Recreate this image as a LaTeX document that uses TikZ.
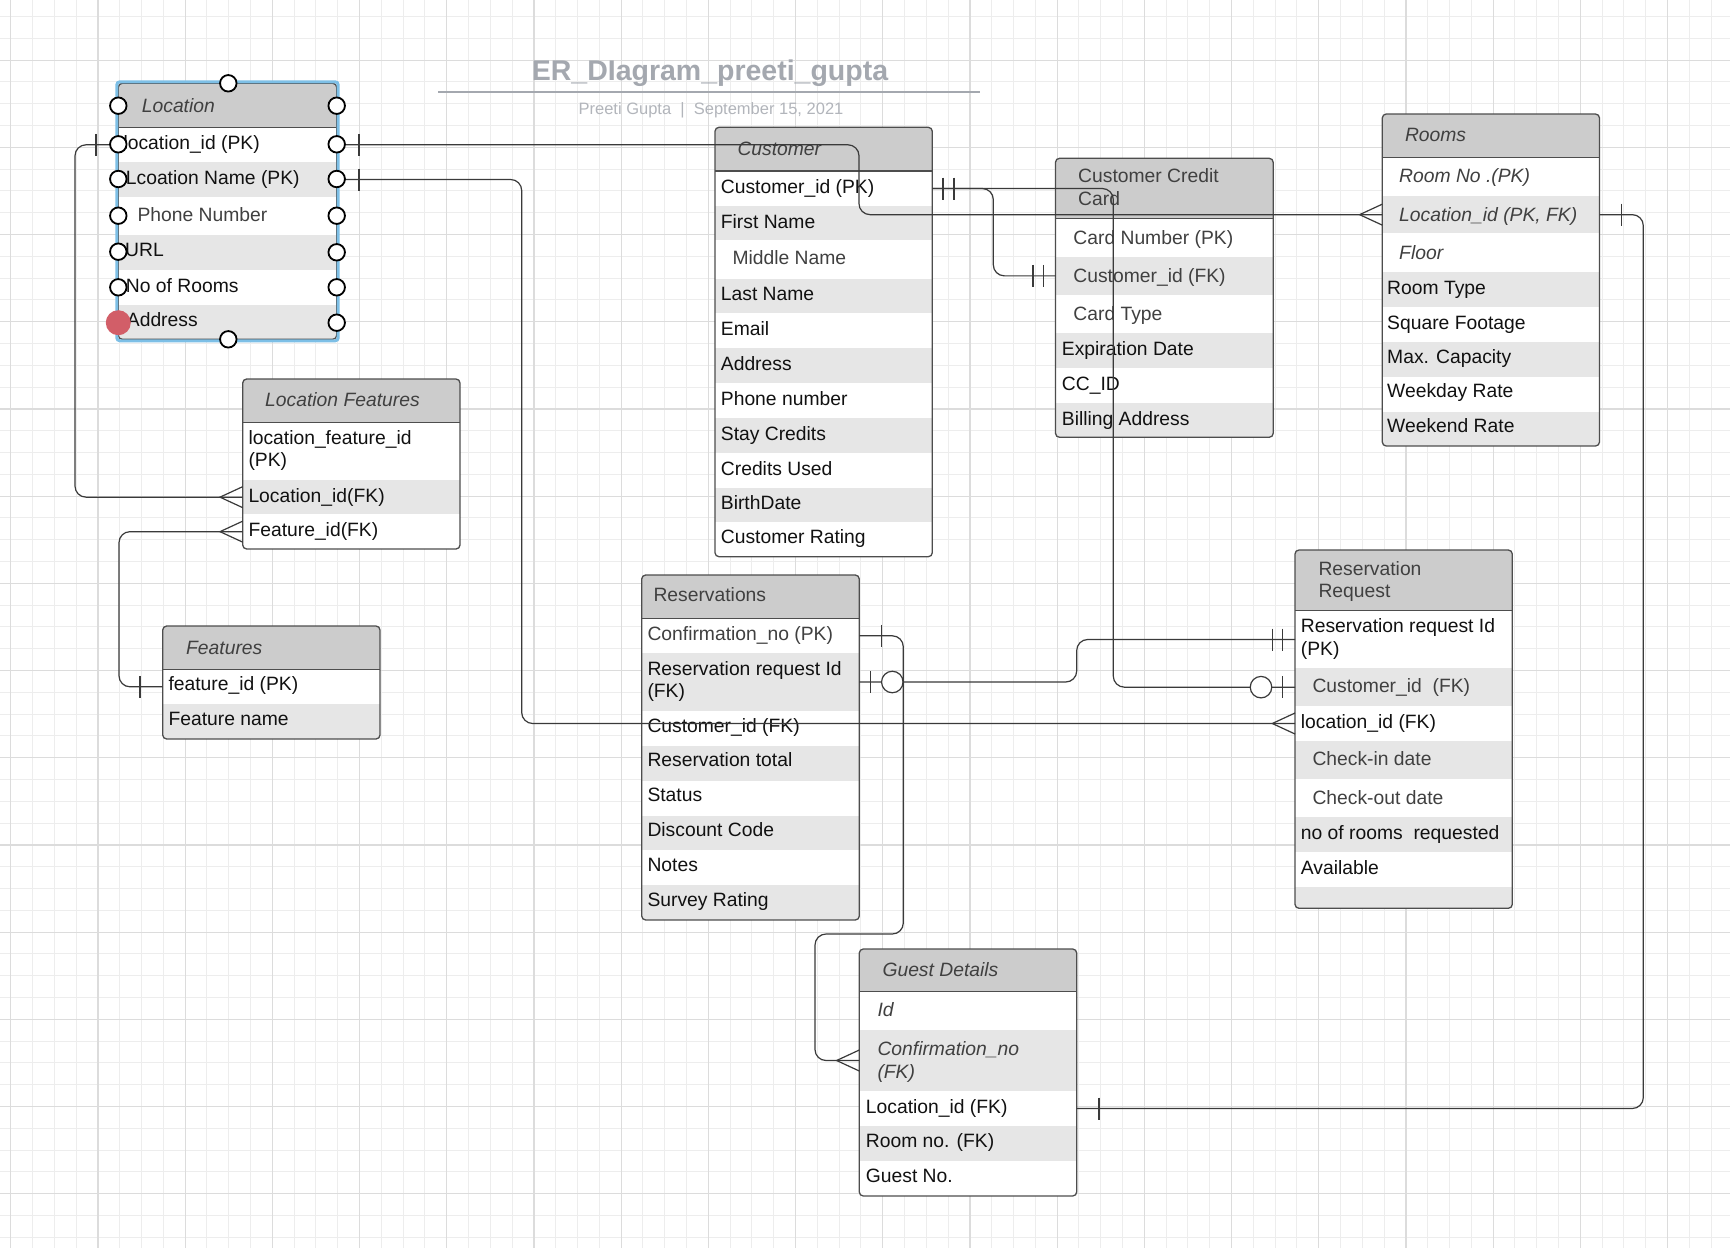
\documentclass[tikz,border=0pt]{standalone}
\usepackage{fontspec}
\setmainfont{Liberation Sans}
\usetikzlibrary{fit}
\definecolor{hdr}{HTML}{CCCCCC}
\definecolor{rowg}{HTML}{E6E6E6}
\definecolor{boxline}{HTML}{4D4D4D}
\definecolor{connline}{HTML}{3A3A3A}
\definecolor{ink}{HTML}{111111}
\definecolor{gink}{HTML}{404040}
\definecolor{gridminor}{HTML}{EDEDED}
\definecolor{gridmajor}{HTML}{DCDCDC}
\definecolor{titlegray}{HTML}{A4A8AF}
\definecolor{subgray}{HTML}{B2B5BB}
\definecolor{selblue}{HTML}{7DBFE6}
\definecolor{reddot}{HTML}{D25E68}
\tikzset{
  rowcell/.style={inner sep=0pt, outer sep=0pt, draw=none},
  boxnode/.style={draw=boxline, line width=1.3pt, rounded corners=4pt, inner sep=0pt, outer sep=0pt},
  sepline/.style={draw=boxline, line width=1.3pt},
  txt/.style={anchor=west, inner sep=0pt, text height=13.8pt, text depth=0pt,
    font=\fontsize{19.3pt}{23pt}\selectfont, text=ink},
  gtxt/.style={txt, text=gink},
  itxt/.style={txt, text=gink, font=\fontsize{19.3pt}{23pt}\selectfont\itshape},
  conn/.style={draw=connline, line width=1.2pt, rounded corners=11pt},
  bar/.style={draw=connline, line width=1.2pt},
  ocirc/.style={circle, draw=connline, fill=white, line width=1.2pt, minimum size=21.5pt, inner sep=0pt},
  handle/.style={circle, draw=black, fill=white, line width=1.8pt, minimum size=16.5pt, inner sep=0pt},
}
\newcommand{\erow}[6]{\node[rowcell, fill=#6, fit={(#2,#3)(#4,#5)}] (#1) {};}
\newcommand{\crowW}[1]{\draw[bar] ([yshift=10.5pt]#1.west) -- ([xshift=-22.7pt]#1.west) -- ([yshift=-10.5pt]#1.west);}
\newcommand{\tick}[2]{\draw[bar] ([xshift=#2,yshift=11pt]#1) -- ([xshift=#2,yshift=-11pt]#1);}
\begin{document}
\begin{tikzpicture}[x=1pt,y=-1pt]
\useasboundingbox (0,0) rectangle (1730,1248);
\fill[white] (0,0) rectangle (1730,1248);
% grid
\foreach \i in {0,...,79} \draw[gridminor, line width=1pt] ({10.7+21.8*\i},0) -- ++(0,1248);
\foreach \j in {0,...,56} \draw[gridminor, line width=1pt] (0,{16.5+21.8*\j}) -- ++(1730,0);
\foreach \i in {0,...,19} \draw[gridmajor, line width=1.2pt] ({10.7+87.2*\i},0) -- ++(0,1248);
\foreach \j in {0,...,13} \draw[gridmajor, line width=1.2pt] (0,{60.1+87.2*\j}) -- ++(1730,0);

% title
\node[anchor=base, inner sep=0pt, font=\fontsize{28.5pt}{34pt}\selectfont\bfseries, text=titlegray] (title) at (710,80.7) {ER\_DIagram\_preeti\_gupta};
\draw[titlegray, line width=1.8pt] (438.3,91.7) -- (979.8,91.7);
\node[anchor=base, inner sep=0pt, font=\fontsize{16.5pt}{20pt}\selectfont, text=subgray] (subtitle) at (711,114) {Preeti Gupta\ \ |\ \ September 15, 2021};

% ---------- Location ----------
\begin{scope}
\clip[rounded corners=4pt] (118.3,83.3) rectangle (336.7,339.3);
\erow{loc-h}{118.3}{83.3}{336.7}{127.3}{hdr}
\erow{loc-r1}{118.3}{127.3}{336.7}{162.3}{white}
\erow{loc-r2}{118.3}{162.3}{336.7}{196.7}{rowg}
\erow{loc-r3}{118.3}{196.7}{336.7}{235}{white}
\erow{loc-r4}{118.3}{235}{336.7}{270}{rowg}
\erow{loc-r5}{118.3}{270}{336.7}{305}{white}
\erow{loc-r6}{118.3}{305}{336.7}{339.3}{rowg}
\end{scope}
\node[boxnode, fit={(118.3,83.3)(336.7,339.3)}] (loc) {};
\draw[sepline] (118.3,127.3) -- (336.7,127.3);
\node[itxt] (loc-th) at (141.7,105.7) {Location};
\node[txt] (loc-t1) at (123.3,142.7) {location\_id (PK)};
\node[txt] (loc-t2) at (125.7,177.7) {Lcoation Name (PK)};
\node[gtxt] (loc-t3) at (137.3,215) {Phone Number};
\node[txt] (loc-t4) at (125,250) {URL};
\node[txt] (loc-t5) at (125.7,285.7) {No of Rooms};
\node[txt] (loc-t6) at (126.7,320) {Address};

% ---------- Customer ----------
\begin{scope}
\clip[rounded corners=4pt] (715,127.3) rectangle (932.3,556.7);
\erow{cust-h}{715}{127.3}{932.3}{171}{hdr}
\erow{cust-r1}{715}{171}{932.3}{206}{white}
\erow{cust-r2}{715}{206}{932.3}{240}{rowg}
\erow{cust-r3}{715}{240}{932.3}{279}{white}
\erow{cust-r4}{715}{279}{932.3}{313.3}{rowg}
\erow{cust-r5}{715}{313.3}{932.3}{348.3}{white}
\erow{cust-r6}{715}{348.3}{932.3}{383.3}{rowg}
\erow{cust-r7}{715}{383.3}{932.3}{418.3}{white}
\erow{cust-r8}{715}{418.3}{932.3}{453.3}{rowg}
\erow{cust-r9}{715}{453.3}{932.3}{488.3}{white}
\erow{cust-r10}{715}{488.3}{932.3}{522.3}{rowg}
\erow{cust-r11}{715}{522.3}{932.3}{556.7}{white}
\end{scope}
\node[boxnode, fit={(715,127.3)(932.3,556.7)}] (cust) {};
\draw[sepline] (715,171) -- (932.3,171);
\node[itxt] (cust-th) at (737.3,148.3) {Customer};
\node[txt] (cust-t1) at (720.7,186.7) {Customer\_id (PK)};
\node[txt] (cust-t2) at (720.7,221.7) {First Name};
\node[gtxt] (cust-t3) at (732.3,257.7) {Middle Name};
\node[txt] (cust-t4) at (720.7,293.3) {Last Name};
\node[txt] (cust-t5) at (720.7,328.3) {Email};
\node[txt] (cust-t6) at (720.7,363.3) {Address};
\node[txt] (cust-t7) at (720.7,398.3) {Phone number};
\node[txt] (cust-t8) at (720.7,433.3) {Stay Credits};
\node[txt] (cust-t9) at (720.7,468.3) {Credits Used};
\node[txt] (cust-t10) at (720.7,502.7) {BirthDate};
\node[txt] (cust-t11) at (720.7,536.7) {Customer Rating};

% ---------- Customer Credit Card ----------
\begin{scope}
\clip[rounded corners=4pt] (1055.5,158.3) rectangle (1273.2,437.3);
\erow{ccc-h}{1055.5}{158.3}{1273.2}{218.3}{hdr}
\erow{ccc-r1}{1055.5}{218.3}{1273.2}{256.7}{white}
\erow{ccc-r2}{1055.5}{256.7}{1273.2}{295}{rowg}
\erow{ccc-r3}{1055.5}{295}{1273.2}{333.3}{white}
\erow{ccc-r4}{1055.5}{333.3}{1273.2}{368.3}{rowg}
\erow{ccc-r5}{1055.5}{368.3}{1273.2}{403.3}{white}
\erow{ccc-r6}{1055.5}{403.3}{1273.2}{437.3}{rowg}
\end{scope}
\node[boxnode, fit={(1055.5,158.3)(1273.2,437.3)}] (ccc) {};
\draw[sepline] (1055.5,218.3) -- (1273.2,218.3);
\node[gtxt] (ccc-th1) at (1078,176) {Customer Credit};
\node[gtxt] (ccc-th2) at (1078,198.3) {Card};
\node[gtxt] (ccc-t1) at (1073.2,237.3) {Card Number (PK)};
\node[gtxt] (ccc-t2) at (1073.2,275.7) {Customer\_id (FK)};
\node[gtxt] (ccc-t3) at (1073.2,313.3) {Card Type};
\node[txt] (ccc-t4) at (1061.7,348.3) {Expiration Date};
\node[txt] (ccc-t5) at (1061.7,383.3) {CC\_ID};
\node[txt] (ccc-t6) at (1061.7,418.3) {Billing Address};

% ---------- Rooms ----------
\begin{scope}
\clip[rounded corners=4pt] (1382.3,114) rectangle (1599.5,446);
\erow{rooms-h}{1382.3}{114}{1599.5}{157.3}{hdr}
\erow{rooms-r1}{1382.3}{157.3}{1599.5}{196}{white}
\erow{rooms-r2}{1382.3}{196}{1599.5}{233.3}{rowg}
\erow{rooms-r3}{1382.3}{233.3}{1599.5}{271.7}{white}
\erow{rooms-r4}{1382.3}{271.7}{1599.5}{306.7}{rowg}
\erow{rooms-r5}{1382.3}{306.7}{1599.5}{341.7}{white}
\erow{rooms-r6}{1382.3}{341.7}{1599.5}{376.7}{rowg}
\erow{rooms-r7}{1382.3}{376.7}{1599.5}{411.7}{white}
\erow{rooms-r8}{1382.3}{411.7}{1599.5}{446}{rowg}
\end{scope}
\node[boxnode, fit={(1382.3,114)(1599.5,446)}] (rooms) {};
\draw[sepline] (1382.3,157.3) -- (1599.5,157.3);
\node[itxt] (rooms-th) at (1404.8,135) {Rooms};
\node[itxt] (rooms-t1) at (1399,176) {Room No .(PK)};
\node[itxt] (rooms-t2) at (1399,214.3) {Location\_id (PK, FK)};
\node[itxt] (rooms-t3) at (1399,252.3) {Floor};
\node[txt] (rooms-t4) at (1387,287.7) {Room Type};
\node[txt] (rooms-t5) at (1387,322.7) {Square Footage};
\node[txt] (rooms-t6) at (1387,356.7) {Max. Capacity};
\node[txt] (rooms-t7) at (1387,391) {Weekday Rate};
\node[txt] (rooms-t8) at (1387,426) {Weekend Rate};

% ---------- Location Features ----------
\begin{scope}
\clip[rounded corners=4pt] (242.7,379) rectangle (460,549);
\erow{lf-h}{242.7}{379}{460}{422.3}{hdr}
\erow{lf-r1}{242.7}{422.3}{460}{480}{white}
\erow{lf-r2}{242.7}{480}{460}{514.3}{rowg}
\erow{lf-r3}{242.7}{514.3}{460}{549}{white}
\end{scope}
\node[boxnode, fit={(242.7,379)(460,549)}] (lf) {};
\draw[sepline] (242.7,422.3) -- (460,422.3);
\node[itxt] (lf-th) at (265,400) {Location Features};
\node[txt] (lf-t1a) at (248.3,437.3) {location\_feature\_id};
\node[txt] (lf-t1b) at (248.3,460) {(PK)};
\node[txt] (lf-t2) at (248.3,496) {Location\_id(FK)};
\node[txt] (lf-t3) at (248.3,530) {Feature\_id(FK)};

% ---------- Features ----------
\begin{scope}
\clip[rounded corners=4pt] (162.7,626) rectangle (380,739);
\erow{feat-h}{162.7}{626}{380}{669.3}{hdr}
\erow{feat-r1}{162.7}{669.3}{380}{704.3}{white}
\erow{feat-r2}{162.7}{704.3}{380}{739}{rowg}
\end{scope}
\node[boxnode, fit={(162.7,626)(380,739)}] (feat) {};
\draw[sepline] (162.7,669.3) -- (380,669.3);
\node[itxt] (feat-th) at (186,647.3) {Features};
\node[txt] (feat-t1) at (168.3,684) {feature\_id (PK)};
\node[txt] (feat-t2) at (168.3,719) {Feature name};

% ---------- Reservations ----------
\begin{scope}
\clip[rounded corners=4pt] (641.7,575) rectangle (859.3,920);
\erow{res-h}{641.7}{575}{859.3}{618.3}{hdr}
\erow{res-r1}{641.7}{618.3}{859.3}{653.3}{white}
\erow{res-r2}{641.7}{653.3}{859.3}{710.7}{rowg}
\erow{res-r3}{641.7}{710.7}{859.3}{745.7}{white}
\erow{res-r4}{641.7}{745.7}{859.3}{780.7}{rowg}
\erow{res-r5}{641.7}{780.7}{859.3}{815.7}{white}
\erow{res-r6}{641.7}{815.7}{859.3}{850}{rowg}
\erow{res-r7}{641.7}{850}{859.3}{885}{white}
\erow{res-r8}{641.7}{885}{859.3}{920}{rowg}
\end{scope}
\node[boxnode, fit={(641.7,575)(859.3,920)}] (res) {};
\draw[sepline] (641.7,618.3) -- (859.3,618.3);
\node[gtxt] (res-th) at (653.3,594.3) {Reservations};
\node[gtxt] (res-t1) at (647.3,633.3) {Confirmation\_no (PK)};
\node[txt] (res-t2a) at (647.3,668.3) {Reservation request Id};
\node[txt] (res-t2b) at (647.3,691) {(FK)};
\node[txt] (res-t3) at (647.3,725.7) {Customer\_id (FK)};
\node[txt] (res-t4) at (647.3,760) {Reservation total};
\node[txt] (res-t5) at (647.3,795) {Status};
\node[txt] (res-t6) at (647.3,830) {Discount Code};
\node[txt] (res-t7) at (647.3,865) {Notes};
\node[txt] (res-t8) at (647.3,900) {Survey Rating};

% ---------- Reservation Request ----------
\begin{scope}
\clip[rounded corners=4pt] (1295,550) rectangle (1512.3,908.3);
\erow{rr-h}{1295}{550}{1512.3}{610.7}{hdr}
\erow{rr-r1}{1295}{610.7}{1512.3}{668.3}{white}
\erow{rr-r2}{1295}{668.3}{1512.3}{706}{rowg}
\erow{rr-r3}{1295}{706}{1512.3}{741}{white}
\erow{rr-r4}{1295}{741}{1512.3}{779}{rowg}
\erow{rr-r5}{1295}{779}{1512.3}{817.3}{white}
\erow{rr-r6}{1295}{817.3}{1512.3}{852.3}{rowg}
\erow{rr-r7}{1295}{852.3}{1512.3}{886.7}{white}
\erow{rr-r8}{1295}{886.7}{1512.3}{908.3}{rowg}
\end{scope}
\node[boxnode, fit={(1295,550)(1512.3,908.3)}] (rr) {};
\draw[sepline] (1295,610.7) -- (1512.3,610.7);
\node[gtxt] (rr-th1) at (1318.3,568.3) {Reservation};
\node[gtxt] (rr-th2) at (1318.3,591) {Request};
\node[txt] (rr-t1a) at (1300.7,625.7) {Reservation request Id};
\node[txt] (rr-t1b) at (1300.7,648.3) {(PK)};
\node[gtxt] (rr-t2) at (1312.3,686) {Customer\_id\ \ (FK)};
\node[txt] (rr-t3) at (1300.7,721.7) {location\_id (FK)};
\node[gtxt] (rr-t4) at (1312.3,759) {Check-in date};
\node[gtxt] (rr-t5) at (1312.3,797.3) {Check-out date};
\node[txt] (rr-t6) at (1300.7,832.3) {no of rooms\ \ requested};
\node[txt] (rr-t7) at (1300.7,867.3) {Available};

% ---------- Guest Details ----------
\begin{scope}
\clip[rounded corners=4pt] (859.3,949) rectangle (1076.7,1196);
\erow{gd-h}{859.3}{949}{1076.7}{991.7}{hdr}
\erow{gd-r1}{859.3}{991.7}{1076.7}{1030}{white}
\erow{gd-r2}{859.3}{1030}{1076.7}{1091}{rowg}
\erow{gd-r3}{859.3}{1091}{1076.7}{1126}{white}
\erow{gd-r4}{859.3}{1126}{1076.7}{1160.7}{rowg}
\erow{gd-r5}{859.3}{1160.7}{1076.7}{1196}{white}
\end{scope}
\node[boxnode, fit={(859.3,949)(1076.7,1196)}] (gd) {};
\draw[sepline] (859.3,991.7) -- (1076.7,991.7);
\node[itxt] (gd-th) at (882.3,970) {Guest Details};
\node[itxt] (gd-t1) at (877.3,1010) {Id};
\node[itxt] (gd-t2a) at (877.3,1048.3) {Confirmation\_no};
\node[itxt] (gd-t2b) at (877.3,1071.7) {(FK)};
\node[txt] (gd-t3) at (865.7,1106.7) {Location\_id (FK)};
\node[txt] (gd-t4) at (865.7,1140.7) {Room no. (FK)};
\node[txt] (gd-t5) at (865.7,1176) {Guest No.};

% ---------- Connectors ----------
% Location -> Location Features
\draw[conn] (loc-r1.west) -- ++(-43.3,0) |- (lf-r2.west);
\tick{loc-r1.west}{-22.3pt}
\crowW{lf-r2}
% Features -> Location Features
\draw[conn] (feat-r1.west) -- ++(-43.7,0) |- (lf-r3.west);
\tick{feat-r1.west}{-22.7pt}
\crowW{lf-r3}
% Location -> Rooms
\draw[conn] (loc-r1.east) -- ++(522.3,0) |- (rooms-r2.west);
\tick{loc-r1.east}{22.3pt}
\crowW{rooms-r2}
% Location -> Reservation Request
\draw[conn] (loc-r2.east) -- ++(185,0) |- (rr-r3.west);
\tick{loc-r2.east}{22.3pt}
\crowW{rr-r3}
% Customer -> Customer Credit Card
\draw[conn] (cust-r1.east) -- ++(61,0) |- (ccc-r2.west);
\tick{cust-r1.east}{10.7pt}
\tick{cust-r1.east}{21.7pt}
\tick{ccc-r2.west}{-22.5pt}
\tick{ccc-r2.west}{-12pt}
% Customer -> Reservation Request
\draw[conn] (cust-r1.east) -- ++(181,0) |- (rr-r2.west);
\node[ocirc] (oc1) at ([xshift=-34pt]rr-r2.west) {};
\tick{rr-r2.west}{-12.3pt}
% Reservations -> Reservation Request
\draw[conn] (res-r2.east) -- ++(217.4,0) |- (rr-r1.west);
\tick{res-r2.east}{11.4pt}
\node[ocirc] (oc2) at ([xshift=33pt]res-r2.east) {};
\tick{rr-r1.west}{-22.3pt}
\tick{rr-r1.west}{-12.3pt}
% Reservations -> Guest Details
\coordinate (w1) at (903.3,934);
\coordinate (w2) at (815,1060.5);
\draw[conn] (res-r1.east) -| (w1) -| (w2) -- (gd-r2.west);
\tick{res-r1.east}{22.4pt}
\crowW{gd-r2}
% Rooms -> Guest Details
\draw[conn] (rooms-r2.east) -- ++(43.8,0) |- (gd-r3.east);
\tick{rooms-r2.east}{22pt}
\tick{gd-r3.east}{22.3pt}

% ---------- selection of Location ----------
\draw[selblue, line width=3pt, rounded corners=3pt] (116.8,81.8) rectangle (338.2,340.8);
\node[handle] (hT) at (228.3,83.3) {};
\node[handle] (hB) at (228.3,339.3) {};
\node[handle] (hL0) at (118.3,105.7) {};
\node[handle] (hL1) at (118.3,144.3) {};
\node[handle] (hL2) at (118.3,179) {};
\node[handle] (hL3) at (118.3,215.7) {};
\node[handle] (hL4) at (118.3,251.7) {};
\node[handle] (hL5) at (118.3,287.3) {};
\node[circle, fill=reddot, minimum size=25pt, inner sep=0pt] (hL6) at (118.3,322.7) {};
\node[handle] (hR0) at (336.7,105.7) {};
\node[handle] (hR1) at (336.7,144.3) {};
\node[handle] (hR2) at (336.7,179) {};
\node[handle] (hR3) at (336.7,215.7) {};
\node[handle] (hR4) at (336.7,252.3) {};
\node[handle] (hR5) at (336.7,287.3) {};
\node[handle] (hR6) at (336.7,322.7) {};
\end{tikzpicture}
\end{document}
